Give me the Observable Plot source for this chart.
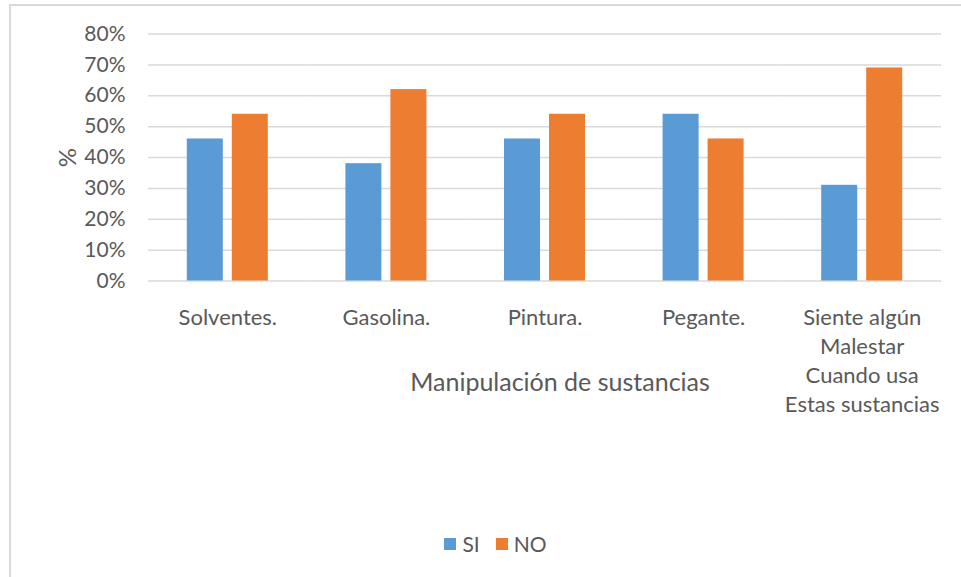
<!DOCTYPE html>
<html>
<head>
<meta charset="utf-8">
<script src="https://cdn.jsdelivr.net/npm/d3@7"></script>
<script src="https://cdn.jsdelivr.net/npm/@observablehq/plot@0.6"></script>
<style>
  html, body { margin: 0; padding: 0; background: #fff; }
  #wrap { position: relative; width: 961px; height: 577px; overflow: hidden; }
  #frame { position: absolute; left: 9px; top: 4px; width: 1000px; height: 700px; border: 2px solid #d9d9d9; box-sizing: border-box; }
  #chart { position: absolute; left: 0; top: 0; }
  #legend { position: absolute; left: 0; width: 961px; top: 531px; display: flex; justify-content: center; font-family: Lato, "Open Sans", sans-serif; font-size: 21px; color: #595959; padding-left: 30px; box-sizing: border-box; }
  .item { display: flex; align-items: center; margin: 0 8px; }
  .sw { width: 12px; height: 12px; display: inline-block; margin-right: 6px; }
</style>
</head>
<body>
<div id="wrap">
  <div id="frame"></div>
  <div id="chart"></div>
  <div id="legend"></div>
</div>
<script>
const categories = ["Solventes.", "Gasolina.", "Pintura.", "Pegante.", "Siente algún\nMalestar\nCuando usa\nEstas sustancias"];
const series = ["SI", "NO"];
const siValues = [0.46, 0.38, 0.46, 0.54, 0.31];
const noValues = [0.54, 0.62, 0.54, 0.46, 0.69];
const yTicks = [0, 0.1, 0.2, 0.3, 0.4, 0.5, 0.6, 0.7, 0.8];
const colors = ["#5B9BD5", "#ED7D31"];
const xTitle = "Manipulación de sustancias";
const yTitle = "%";

const data = categories.flatMap((c, i) => [
  {cat: c, serie: "SI", value: siValues[i]},
  {cat: c, serie: "NO", value: noValues[i]}
]);
const fmt = d => Math.round(d * 100) + "%";

const chart = Plot.plot({
  width: 961,
  height: 520,
  marginLeft: 148,
  marginRight: 20,
  marginTop: 33.5,
  marginBottom: 239.5,
  style: {fontFamily: "Lato, 'Open Sans', sans-serif", fontSize: "21px", color: "#595959", background: "transparent"},
  fx: {domain: categories, padding: 0, round: false},
  x: {domain: series, paddingInner: 0.2, paddingOuter: 0.862, round: false, axis: null},
  y: {domain: [0, 0.8]},
  color: {domain: series, range: colors},
  marks: [
    Plot.gridY(yTicks, {stroke: "#d9d9d9", strokeOpacity: 1, strokeWidth: 1.5}),
    Plot.barY(data, {fx: "cat", x: "serie", y: "value", fill: "serie"}),
    Plot.axisY(yTicks, {tickSize: 0, tickPadding: 23, tickFormat: fmt, label: yTitle, labelAnchor: "center", labelArrow: "none", labelOffset: 90, fontSize: 21}),
    Plot.axisFx({anchor: "bottom", tickSize: 0, tickPadding: 23, lineHeight: 1.32, label: xTitle, labelAnchor: "center", labelArrow: "none", labelOffset: 110, fontSize: 22})
  ]
});
document.getElementById("chart").appendChild(chart);
chart.querySelectorAll("text").forEach(t => t.setAttribute("fill", "#595959"));
chart.querySelectorAll("g[aria-label='fx-axis label'] text").forEach(t => t.setAttribute("font-size", "25"));
chart.querySelectorAll("g[aria-label='y-axis label'] text").forEach(t => t.setAttribute("font-size", "24"));
chart.querySelectorAll("g[aria-label='fx-axis label']").forEach(g => g.setAttribute("transform", (g.getAttribute("transform") || "") + " translate(15,0)"));

const legend = document.getElementById("legend");
series.forEach((s, i) => {
  const item = document.createElement("div");
  item.className = "item";
  const sw = document.createElement("span");
  sw.className = "sw";
  sw.style.background = colors[i];
  item.appendChild(sw);
  item.appendChild(document.createTextNode(s));
  legend.appendChild(item);
});
</script>
</body>
</html>
